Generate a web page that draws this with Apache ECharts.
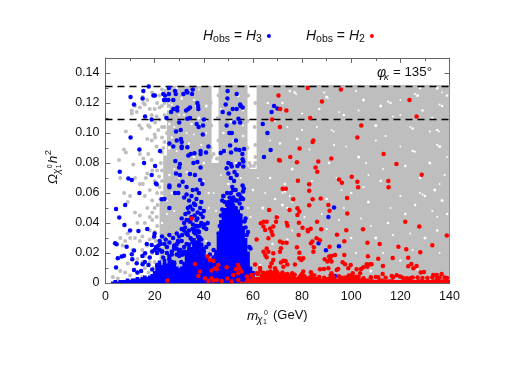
<!DOCTYPE html>
<html><head><meta charset="utf-8">
<style>html,body{margin:0;padding:0;background:#fff}#c{width:518px;height:366px}</style>
<script src="https://cdn.jsdelivr.net/npm/echarts@6/dist/echarts.min.js"></script></head>
<body><div id="c"></div>
<script>
// values: [mass GeV, relic density x 1000]
const yTicks=[0,0.02,0.04,0.06,0.08,0.1,0.12,0.14];
const limitUpper=131, limitLower=109;
// saturated gray regions: [x0,x1,y0,y1]
const grayFill=[[25,43.2,83,131.5],[23.5,43.2,53,85],[22,46.5,0,55],[42.5,46.5,0,80],[46,57.8,0,132],[57.5,62,0,76],[61.5,140,0,132]];
const grayPoints=[[5.5,82],[7.5,89],[8.3,87],[8.3,101],[10.7,113],[10.7,115],[12,118],[12.7,114],[14,117],[13.8,105],[14.7,103],[16,119],[15.4,120],[15.1,124],[18,116],[17.4,105],[18,104],[18.8,112],[20,116],[22,117],[20.8,111],[20.2,97],[18.8,95],[17,96],[14,86],[15.4,83],[11.3,79],[20.2,107],[21.5,102],[20.8,91],[17.4,86],[18.8,82],[20,99],[22,125],[21,120],[23,129],[22,109],[23,97],[23,87],[22.5,80],[17,122],[19,127],[24,120],[24,112],[24,104],[24,94],[23.5,90],[24.5,128],[23,118],[23,104],[25,100],[24.6,124],[6,70],[7.6,60],[10,58],[9,54],[12,70],[14,66],[15.2,66],[18,62],[19,55],[17,73],[20,68],[21,75],[21.8,71],[22,64],[21,60],[22.3,56],[20,50],[19,75],[12,47],[14,45],[16,40],[13,40],[17,50],[19,47],[18,35],[19.5,30],[17,25],[19,20],[18,14],[16,18],[19.5,10],[17.5,7],[15,14],[15,4],[8,28],[10,30],[9,33],[12,30],[14,28],[7,25],[6,30],[11,22],[13,16],[15,22],[9,13],[6,8],[8,7],[10,5],[13,7],[16,10],[3,4],[5,3],[15,31],[18,29],[19,42],[20,34],[20.8,44],[21,38],[20.4,28],[21,20],[20,14],[20.8,8],[20,4],[21.2,52],[18,44],[16,58],[16.4,70],[23,75],[23,68],[23,60],[61,80],[61,92],[60.7,104],[61,120],[58,76],[59,78],[43,84],[44,86],[45.4,83],[46,95],[45.7,110],[46,125],[42.8,90],[43,105],[42.8,120],[57.8,90],[57.8,108],[58,125],[58.6,80],[60.4,78],[61,84]];
// white gaps inside the gray cloud
const grayGaps=[[77,127],[77.6,126],[89,127],[90,124],[90.5,123.5],[75,128],[115,121],[116,120],[120,122],[126,126],[127,125],[137,127],[139,125],[136,119],[137,118],[92,102],[92.8,101],[110,105],[124,104],[125,103],[132,101],[135,102],[135.7,101],[135,92],[136,91],[120,91],[78,96],[110,95],[97,112],[86,104],[114,98],[105,122],[98,91],[125,88],[126,87.5],[129,115],[117,111],[106,80],[132,80],[139,84],[91,80],[102,128],[128,130],[74,104],[80,102],[135,130],[72,60],[73,61],[74,63],[73,66],[75,58],[74,50],[72,52],[76,54],[100,60],[105,64],[112,68],[128,60],[129,59],[134,62],[136,66],[130,58],[84,68],[90,56],[96,62],[120,58],[137,55],[108,38],[115,40],[117,32],[122,46],[135,44],[73,40],[74,41],[76,35],[74,29],[90,36],[100,30],[104,43],[113,20],[130,30],[136,20],[120,15],[102,20],[67,70],[65,60],[70,45],[64,50],[62,70],[68,26],[63,12],[87,116],[95,114],[103,115],[112,118],[120,112],[133,110],[80,113],[72,120],[83,89],[93,92],[103,84],[113,76],[122,78],[138,72],[128,70],[107,72],[86,75],[76,76],[67,95],[66,120],[69,108],[71,93],[94,70],[97,50],[107,54],[116,50],[126,52],[133,48],[139,46],[88,46],[81,44],[110,30],[124,33],[135,35],[95,42],[69,56],[125,22],[100,12],[108,8],[127,9],
[37,118],[36,122],[31,123],[26,120],[27,119],[25.5,116],[26,127],[33,127],[28,104],[27,97],[36,99],[34,93],[41,118],[41,100],[40,80],[29,88],[26,72],[30,70],[33,74],[38,60],[40,68],[27,60],[25,55],[36,50],[31,42],[28,48],[25,30],[30,28],[24,18],[41,28],[42,60],[42,50],[52,95],[54,125],[56,105],[48,100],[49,122],[53,80],[44,60],[45,48],[56,58],[58,50],[60,62],[59,44],[29,130],[38,129],[32,112],[38,110],[30,112],[26,106],[41,108],[35,106],[33,100],[39,92],[26,90],[31,80],[36,84],[28,76],[23,40],[23,30],[25,46],[23,25],[23,10],[23,14],[55,70],[50,66],[47,72],[56,115],[51,108],[47,116],[56,98],[49,88]];
// saturated blue column tops [x, top]
const blueColX=[3,4,5,6,7,8,9,10,11,12,13,14,15,16,17,18,19,20,21,22,23,24,25,26,27,28,29,30,31,32,33,34,35,36,37,38,39,40,41,42,43,44,45,46,47,48,49,50,51,52,53,54,55,56,57,58,59,60,61,62];
const blueColTop=[1,2,1,2,2,2,3,2,3,3,4,3,4,5,4,5,6,8,12,15,12,16,13,17,14,15,11,10,11,14,22,27,24,30,26,32,27,24,18,15,16,15,22,32,42,48,50,52,50,53,51,49,44,38,30,21,11,8,4,2];
const blueX=[10.2,11.6,15.4,15.1,17.6,16.1,18.8,10.2,13.8,15.7,19.5,20.1,23.5,24.2,25.8,25.8,28.3,28.6,31.7,33,33.3,35.5,35.2,23.8,24.6,25.6,27.6,37.4,37.7,37.8,26.7,27.6,29.2,29.2,32.8,33.7,34.4,24.8,33.3,34.4,30,37.1,37.9,39.7,40.1,28.7,30.6,39.6,30.7,29,31,26,27.6,31,31,33.3,41.9,22.2,36.2,34.7,33.7,38.7,38.7,40.9,28.4,30.3,35.8,37.4,38.7,20.2,30,49.7,53.4,49.6,48.9,47.7,51.8,53.4,54.8,55,55.8,50.3,54.1,52.4,54.8,49.3,50.4,51.4,53.1,50.7,51.1,48.2,46.9,53.1,54.5,56.4,55.7,55.8,56.1,50,51,54.5,56.1,53.7,49.3,51.4,64.5,67.2,65.9,64,67.6,68.6,70,
5.8,9.3,10.7,13.8,8,4.3,5.6,7.7,10,13.4,3.9,4.5,8.6,11.6,7.5,6.6,5,10.7,10.9,12.7,4.3,11.6,15.1,16.1,16.8,18.8,20.8,20.5,18.8,22.9,26,26,28.3,28.7,30.3,30,29.6,34.4,36.4,38.5,39.4,31.4,33,35.5,37.1,
32,33,34,35,36,37,38,39,33.5,34.5,35.5,36.5,37.5,38.5,32.5,33.8,35,36.2,37.4,38.8,40,32,33,34.2,35.6,37,38.2,39.6,31,32.4,34,35.4,36.8,38,40.4,41.6,30,31.2,33,34.6,36,37.6,39,29.5,31,33,35,37,39,41,42,28,30,32,34,36,38,40,42.5,44,
50,52.5,51,52.3,53.4,51.6,55.8,56.3,48,49.5,50.5,52,53,54.5,48.5,50,51.5,53,54.6,56,47.5,49,50.8,52.4,54,55.4,57,47,48.6,50.2,52,53.6,55,56.6,46.5,48,49.8,51.6,53.4,55.2,57,58,46,47.5,46.5,57.5,58.5,59,45,44,
20,21.5,23,24.5,26,27.5,29,19.8,22,24,26,28,29.5,20.5,22.5,25,27,29,30.5,31.5,21,23.5,26,28.5,31,18,19,17.5,16,14.5,13,22,25,28,26,30.8,24,27,23,29,20,17,15,21,24,19,27,
33,35,37,39,34,36,38,40,32,34.5,36.5,38.5,41,33.5,35.5,37.5,39.5,31,33,47,49,51,53,55,48,50,52,54,56,47.5,49.5,51.5,53.5,55.5,24,26,28,22,25,27,29,21,23,30,32];
const blueY=[124,119,128,123,131,111,109,97,89,80,125,125,126,125,126,130,128,126,126,128,127,129,126,122,122,122,122,120,118,116,114,116,117,115,115,116,117,110,109.5,110,107,106,104,105,109,101,102,99,96,95,94,93,91,91,90,90.5,91,88,86.5,86,85,88,86,87,81.4,79.4,80,80.7,77,78,77,128,126,123,119,114,116,116,119,118,117,113,109.5,107,107,105,100,100,95,91.6,87,88,86.7,89,88.7,89.4,86,82.5,81,80,79.4,79.4,77.6,78,76.5,77.6,84,88.7,100,106,114,118,116.4,
74.2,69.7,68.6,60,52,49.3,43.6,38.7,35,34.7,26.5,25.8,24.2,21.6,18.2,17.6,16.5,19.1,15.8,13.1,10.3,8.7,12.5,19.8,26,25.3,65.8,66.4,72,55.8,65,63.8,60,73,72,65,60,72.6,72,68.6,66,67.5,64,62,62.4,
57,59,55,58,53,56,60,54,50,51,49,52,47,50,46,47,44,45,43,46,48,40,42,41,39,42,38,44,36,37,35,36,38,34,39,40,31,32,33,30,34,31,29,27,28,26,29,27,25,24,26,23,21,24,22,20,24,21,19,22,
73,74,70,68,72,64,65,63,58,60,57,62,55,59,54,52,55,50,53,56,49,47,51,48,46,50,43,45,43,44,47,42,45,41,38,40,36,39,43,41,37,34,33,34,29,32,24,23,18,17,22,25,
31,29,32,30,33,31,28,26,27,25,28,24,26,24,21,23,22,19,20,17,18,23,19,17,21,12,14,8,7,9,6,13,16,14,10,14,21,19,33,36,18,12,6,9,11,7,15,
38,40,42,36,34,37,35,41,33,30,36,32,27,35,39,43,33,29,26,60,62,56,58,54,57,59,61,55,52,53,55,57,56,50,24,22,20,19,26,23,21,18,21,18,17];
// saturated red column tops
const redColX=[56,58,60,62,64,66,68,70,72,74,76,78,80,82,84,86,88,90,92,94,96,98,100,102,104,106,108,110,112,114,116,118,120,122,124,126,128,130,132,134,136,138,139.5];
const redColTop=[1,2,3,4,6,7,8,6,7,5,6,4,6,4,5,4,3,4,6,3,4,5,6,4,3,3,2.5,2,3,2,2.5,2,2,3,2,2,2.5,2,2,2.5,2,2.5,2];
const redX=[70.4,67.8,71,70.6,82.3,95.8,88.1,123.7,126.6,71.1,73.6,83.3,104.1,102.5,84.6,84.3,79,113.2,75.2,91.9,86.6,77.9,118.4,85.5,71,
35.1,41.5,42.5,43.9,36.4,45.9,44.6,43.2,45.3,37.8,38.5,49.3,54,54.5,53.1,55.4,54,52,49.6,47.3,40.5,41.9,43.2,43.9,45.3,25.2,51.4,54,
66.6,69.7,69.4,63.2,64.3,65.6,64.3,65,67,68.3,67.6,68,66.3,61.5,65.6,66.3,64.3,65,65.6,68.3,68.3,67.6,67,69,67.2,69.7,69,60.9,62.9,59.5,57.5,61.5,64.3,67,70,
86.2,100.2,95,96.2,102.5,102.8,115.1,115.2,128.7,78.3,82.9,82.9,72.1,73.4,76.4,84.3,87.6,98.3,82.9,90.7,91.2,98.4,74.9,78.1,78.9,78.1,73.7,74.1,78.7,86.1,122,127.7,80.2,82.3,83.5,82.4,87.8,98,104.8,78.6,94.2,138.9,71,72.1,73.7,84.2,83.6,85.9,87.3,97.2,106.6,111.6,133,119.2,122.4,77.9,71.4,71,84.8,84.6,91.2,78.9,128.1,97.2,106.8,123.2,111,116.9,78.9,79.7,80.5,89.2,91,92,93.4,91.4,90.3,92,96.5,97.5,99.8,98.8,106.3,107.6,108.3,106.6,104.9,104,102.2,112.9,123.2,124.5,126.6,125.3,73.3,72.4,71.4,77.1,74,72.4,87.3,88.9,90.7,94.1,94.7,80.5,83.6,92,103.6,100.6,112.8,129.6,128.3,133.4,134.8,136.8,118.5,119.9,116.5,122.6,125,
73,75,77,79,81,83,85,87,89,93,96,99,100,102,105,108,110,114,117,121,124,127,131,133,135,138,139,72,76,80,84,95,99,103,111,129,136,62,64,66,68,70,60,58,63,69,74];
const redY=[125,109,104,82,130,129,121,122,111,116,115,110,105,97,95,94,89.6,86,84,83,81,80.5,79.4,77,81.6,
43,17.6,15.4,14.9,12.7,12,9.8,8.3,9.1,4.7,7.6,10.5,12,9.8,9.1,7.6,6.5,5.4,3,1.4,3.2,1.4,3.2,1.6,2,1.6,1,2,
48.7,43.8,40.9,39.8,40.9,40.9,37.6,35.3,36.4,37.6,34.2,32,29.8,29,23,20.9,20.9,18.7,17.1,19.8,15.4,13.1,10.9,9.8,7.6,7.6,4.7,12.3,10,5.4,4.5,6.5,6.8,5.9,6,
74.2,70.9,69,66.9,67.5,63.8,68,63.8,72.2,68.2,65.8,61.5,62.9,62.9,55.8,55.8,56.4,56.7,51.8,52,48.2,46.4,48.7,49.8,47.6,45.3,40.2,38.2,40.2,40.9,40.9,37.6,36.9,35.3,36.2,34.5,35.8,35.1,35.8,32,32.2,31.6,27.6,26.9,26.9,27.6,26.5,29.8,28.5,27.8,26.9,26,25.1,24.2,22.5,23.8,23.1,20.9,23.8,20.9,24.2,20.2,20.5,18.7,17.8,16.9,16.2,16.7,16.5,15.4,16.5,15.8,17.6,18,18.7,15.8,14.3,14.3,13.8,12.5,12,9.8,12.5,12.5,12.5,10.9,10.5,9.4,9.1,11.4,11.1,12.7,11.4,9.8,14.7,14.9,13.6,12.3,12.3,10.9,9.1,9.4,9.8,8.7,9.4,7.6,7.1,6.5,6.5,6.5,6,7.4,7,5.4,5.4,6,5.1,4.3,4.7,3.2,3.6,
5,3.5,5.5,4,4.5,3.5,5,4,3.5,3.2,3.5,5,3.6,4.2,3.2,3.8,4,3.5,3.8,3.5,3.2,3.6,3.4,3.8,3.2,3.6,3.3,7,6.5,6,5.5,4.5,4.2,4,3.8,3.4,3.5,6,5.5,7,6,6.5,3.5,2.5,8,7.5,6];
const blueExtras=[[93,50.4],[90.7,44],[86.7,26.5],[95,24.5],[89.7,21.8],[93.4,4.7]];

const S=v=>v/1000, pts=(xs,ys)=>xs.map((x,i)=>[x,S(ys[i])]);
const colFill=(name,xs,tops,w,color,z)=>fill(name,xs.map((x,i)=>[x-w/2,x+w/2,0,tops[i]]),color,z);
function fill(name,rows,color,z){return {name,type:'custom',z,silent:true,data:rows.map(r=>[r[0],r[1],S(r[2]),S(r[3])]),
 encode:{x:[0,1],y:[2,3]},clip:true,
 renderItem:(p,api)=>{const a=api.coord([api.value(0),api.value(3)]),b=api.coord([api.value(1),api.value(2)]);
  return {type:'rect',shape:{x:a[0],y:a[1],width:b[0]-a[0],height:b[1]-a[1]},style:{fill:color}};}};}
const F='"Liberation Sans"';
const scat=(name,data,color,size,z)=>({name,type:'scatter',data,symbolSize:size,z,clip:true,itemStyle:{color,opacity:1},silent:true});
const limit=v=>({type:'line',data:[[0,S(v)],[140,S(v)]],symbol:'none',z:4,silent:true,lineStyle:{color:'#000',width:1.5,type:[7,5]}});
const axisCommon={min:0,axisLine:{show:true,onZero:false,lineStyle:{color:'#666',width:1}},splitLine:{show:false},
 axisTick:{inside:true,length:5,lineStyle:{color:'#666'}},minorTick:{show:true,splitNumber:2,length:3,lineStyle:{color:'#666'}}};
const rich={i:{fontStyle:'italic',fontFamily:F,fontSize:14,color:'#111'},n:{fontFamily:F,fontSize:14,color:'#111'},s:{fontFamily:F,fontSize:10.5,color:'#111',padding:[7,0,0,0]}};
const tx=(x,y,t,size,style)=>({type:'text',left:x,top:y,z:20,style:{text:t,font:`${style||''} ${size}px ${F}`,fill:'#111'}});
const gapSizes=[2.5,1.8,2.2,3,1.8,2.5,2.2];
const chart=echarts.init(document.getElementById('c'),null,{renderer:'canvas'});
chart.setOption({animation:false,backgroundColor:'#fff',
 grid:{left:105.5,right:68.5,top:58,bottom:83},
 xAxis:[Object.assign({},axisCommon,{max:140,interval:20,axisLabel:{fontFamily:F,fontSize:12.5,color:'#111',margin:7}}),
        Object.assign({},axisCommon,{max:140,interval:20,position:'top',axisLabel:{show:false}})],
 yAxis:[Object.assign({},axisCommon,{max:0.15,interval:0.02,axisLabel:{fontFamily:F,fontSize:12.5,color:'#111',margin:6,showMaxLabel:false,formatter:v=>yTicks.includes(+v.toFixed(2))?(v===0?'0':v.toFixed(2)):''}}),
        Object.assign({},axisCommon,{max:0.15,interval:0.02,position:'right',axisLabel:{show:false}})],
 legend:{left:203,top:29,padding:0,data:['H3','H2'],align:'right',itemWidth:4,itemHeight:4,itemGap:35,icon:'circle',selectedMode:false,
  formatter:n=>n==='H3'?'{i|H}{s|obs}{n| = }{i|H}{s|3}':'{i|H}{s|obs}{n| = }{i|H}{s|2}',textStyle:{rich}},
 series:[fill('grayFill',grayFill,'#bebebe',1),scat('gray',grayPoints.map(p=>[p[0],S(p[1])]),'#bebebe',4,2),
  Object.assign(scat('gaps',grayGaps.map(p=>[p[0],S(p[1])]),'#fff',3,3),{symbolSize:(v,p)=>gapSizes[p.dataIndex%gapSizes.length]}),
  limit(limitUpper),limit(limitLower),
  colFill('blueFill',blueColX,blueColTop,1.5,'#0000ff',5),scat('H3',pts(blueX,blueY).concat(blueExtras.map(p=>[p[0],S(p[1])])),'#0000ff',4.5,6),
  colFill('redFill',redColX,redColTop,2.5,'#ff0000',7),scat('H2',pts(redX,redY),'#ff0000',4.5,8)],
 graphic:[tx(377,66,'φ',14,'italic'),tx(384,72,'κ',9.5,'italic'),tx(393,66,'= 135°',13.3),
  tx(247,309,'m',13.5,'italic'),tx(257,315,'χ',10,'italic'),tx(264,310,'0',7),tx(263,319,'1',7),tx(273,309,'(GeV)',13),
  {type:'group',left:43,top:150,rotation:Math.PI/2,silent:true,z:20,children:[
   {type:'text',x:0,y:-14,style:{text:'Ω',font:`italic 13.5px ${F}`,fill:'#111'}},
   {type:'text',x:10,y:-8,style:{text:'χ',font:`italic 10px ${F}`,fill:'#111'}},
   {type:'text',x:16,y:-13,style:{text:'0',font:`7px ${F}`,fill:'#111'}},
   {type:'text',x:16,y:-4,style:{text:'1',font:`7px ${F}`,fill:'#111'}},
   {type:'text',x:21,y:-14,style:{text:'h',font:`italic 13.5px ${F}`,fill:'#111'}},
   {type:'text',x:29,y:-17,style:{text:'2',font:`9.5px ${F}`,fill:'#111'}}]}]
});
</script></body></html>
